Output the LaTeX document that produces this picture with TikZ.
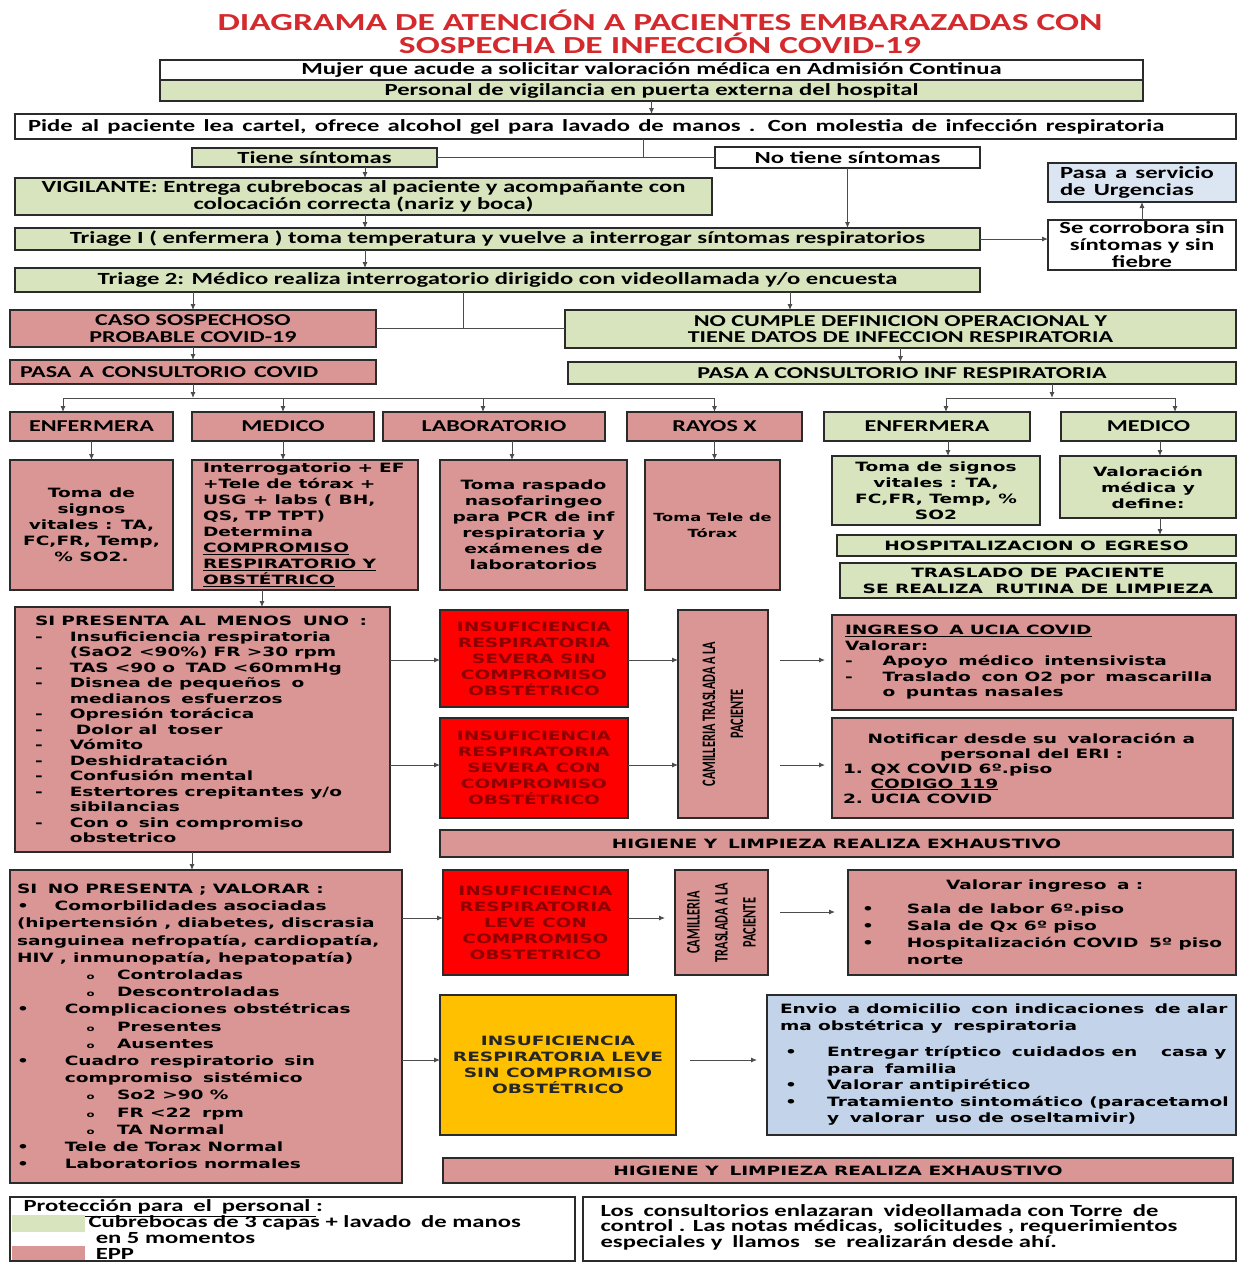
\documentclass[tikz,border=0pt]{standalone}
\usepackage{fontspec}
\setmainfont{Carlito}
\newfontfamily\verd{DejaVu Sans}
\usetikzlibrary{positioning}
\usetikzlibrary{arrows.meta}
\definecolor{vgreen}{HTML}{D7E4BD}
\definecolor{epink}{HTML}{D99694}
\definecolor{ired}{HTML}{FF0000}
\definecolor{itext}{HTML}{8E0000}
\definecolor{iyellow}{HTML}{FFC000}
\definecolor{sblue}{HTML}{C3D4EA}
\definecolor{ublue}{HTML}{DCE6F2}
\definecolor{ttlred}{HTML}{D42A2E}
\definecolor{edge}{HTML}{2B2B2B}
\tikzset{box/.style = {draw=edge, line width=1.6pt, inner sep=0pt, outer sep=0pt}}
\tikzset{gbox/.style = {box, fill=vgreen},
         pbox/.style = {box, fill=epink},
         wbox/.style = {box, fill=white},
         rbox/.style = {box, fill=ired, text=itext},
         ybox/.style = {box, fill=iyellow, text=black!85},
         bbox/.style = {box, fill=sblue},
         ubox/.style = {box, fill=ublue},
         swatch/.style = {inner sep=0pt, outer sep=0pt}}
\tikzset{cal/.style = {font=\bfseries\fontsize{17}{17}\selectfont},
         head/.style = {font=\bfseries\fontsize{16.6}{16.5}\selectfont},
         ver/.style = {font=\verd\bfseries\fontsize{12.8}{16}\selectfont},
         narrow/.style = {font=\bfseries\fontsize{13.1}{19.3}\selectfont}}
\tikzset{arr/.style = {draw=black!70, line width=0.9pt, -{Latex[length=6pt, width=5pt]}},
         ln/.style = {draw=black!70, line width=0.9pt}}
% text is wider than the font: stretch it
\newcommand\hstr{1.45}
\newcommand\cblock[1]{\scalebox{\hstr}[1]{\vbox{\let\\\cr\lineskiplimit=-40pt\halign{\hfil##\hfil\cr#1\crcr}}}}
\newcommand\lblock[1]{\scalebox{\hstr}[1]{\vbox{\let\\\cr\lineskiplimit=-40pt\halign{##\hfil\cr#1\crcr}}}}
\newcommand\vblock[2]{\rotatebox{90}{\scalebox{#1}[\hstr]{\vbox{\let\\\cr\lineskiplimit=-40pt\halign{\hfil##\hfil\cr#2\crcr}}}}}
\newcommand\bx[8][]{\node[#3, minimum width={#6-#4}, minimum height={#7-#5}, #1] (#2) at ({(#4+#6)/2}, {(#5+#7)/2}) {#8};}
\newcommand\bul[2][24]{\makebox[#1pt][l]{#2}}
\newcommand\subb{\hspace*{48pt}\bul[21]{{\fontsize{8}{8}\selectfont o}}}
\newcommand\gap[1]{\noalign{\vskip#1pt}}

\begin{document}
\begin{tikzpicture}[x=1pt, y=-1pt]
\useasboundingbox (0,0) rectangle (1237,1262);

% titulo
\node (title) at (660,32) {\color{ttlred}\bfseries\fontsize{24.5}{23.5}\selectfont\cblock{DIAGRAMA DE ATENCIÓN A PACIENTES EMBARAZADAS CON\\SOSPECHA DE INFECCIÓN COVID-19}};

% entrada
\bx{mujer}{wbox, cal}{160}{60}{1143}{80}{\cblock{Mujer que acude a solicitar valoración médica en Admisión Continua}}
\bx{personal}{gbox, cal}{160}{80}{1143}{101}{\cblock{Personal de vigilancia en puerta externa del hospital}}
\bx[text width=1195, align=left]{pide}{wbox, cal}{15}{114}{1236}{139}{\lblock{Pide al paciente lea cartel, ofrece alcohol gel  para  lavado  de manos .  Con molestia de infección  respiratoria}}
\bx{tiene}{gbox, cal}{192}{148}{437}{167}{\cblock{Tiene síntomas}}
\bx{notiene}{wbox, cal}{715}{147}{980}{168}{\cblock{No tiene síntomas}}
\bx{vigil}{gbox, cal}{15}{178}{712}{215}{\cblock{VIGILANTE: Entrega cubrebocas al paciente y  acompañante con\\colocación correcta  (nariz y boca)}}
\bx{triage1}{gbox, cal}{15}{228}{980}{250}{\cblock{Triage I  (  enfermera )  toma temperatura y vuelve a interrogar  síntomas respiratorios}}
\bx[text width=164, align=left]{urgencias}{ubox, cal}{1048}{163}{1236}{202}{\lblock{Pasa a servicio\\de Urgencias}}
\bx{corrobora}{wbox, cal}{1048}{220}{1236}{270}{\cblock{Se corrobora sin\\síntomas y sin\\fiebre}}
\bx{triage2}{gbox, cal}{15}{268}{980}{292}{\cblock{Triage 2: Médico  realiza  interrogatorio  dirigido  con videollamada y/o encuesta}}

% clasificacion
\bx{caso}{pbox, head}{10}{310}{376}{347}{\cblock{CASO SOSPECHOSO\\PROBABLE COVID-19}}
\bx{nocumple}{gbox, head}{565}{310}{1236}{348}{\cblock{NO  CUMPLE DEFINICION OPERACIONAL Y\\TIENE DATOS DE INFECCION  RESPIRATORIA}}
\bx[text width=346, align=left]{pasacovid}{pbox, head}{10}{360}{376}{384}{\lblock{PASA A CONSULTORIO COVID}}
\bx{pasainf}{gbox, head}{568}{362}{1236}{384}{\cblock{PASA A CONSULTORIO INF RESPIRATORIA}}

% areas
\bx{enf1}{pbox, head}{10}{412}{173}{441}{\cblock{ENFERMERA}}
\bx{med1}{pbox, head}{192}{412}{374}{441}{\cblock{MEDICO}}
\bx{lab}{pbox, head}{383}{412}{605}{441}{\cblock{LABORATORIO}}
\bx{rx}{pbox, head}{627}{412}{802}{441}{\cblock{RAYOS X}}
\bx{enf2}{gbox, head}{824}{412}{1030}{441}{\cblock{ENFERMERA}}
\bx{med2}{gbox, head}{1061}{412}{1236}{441}{\cblock{MEDICO}}

\bx{signos1}{pbox, ver}{10}{460}{173}{590}{\cblock{Toma de\\signos\\vitales : TA,\\FC,FR, Temp,\\\% SO2.}}
\bx[text width=204, align=left]{interr}{pbox, ver}{192}{460}{418}{590}{\lblock{Interrogatorio + EF\\+Tele de tórax +\\USG  + labs ( BH,\\QS, TP TPT)\\Determina\\\underline{COMPROMISO}\\\underline{RESPIRATORIO  Y}\\\underline{OBSTÉTRICO}}}
\bx{raspado}{pbox, ver}{440}{460}{627}{590}{\cblock{Toma raspado\\nasofaringeo\\para PCR de inf\\respiratoria y\\exámenes  de\\laboratorios}}
\bx[font=\verd\bfseries\fontsize{11.2}{16}\selectfont]{tele}{pbox}{645}{460}{780}{590}{\cblock{Toma Tele de\\Tórax}}
\bx{signos2}{gbox, ver}{832}{456}{1040}{525}{\cblock{Toma de signos\\vitales : TA,\\FC,FR, Temp, \%\\SO2}}
\bx{valor}{gbox, ver}{1060}{456}{1236}{518}{\cblock{Valoración\\médica y\\define:}}
\bx{hosp}{gbox, ver}{837}{535}{1236}{556}{\cblock{HOSPITALIZACION O\hspace{6pt}EGRESO}}
\bx{traslado}{gbox, ver}{840}{563}{1236}{598}{\cblock{TRASLADO DE PACIENTE\\SE REALIZA\hspace{4pt} RUTINA DE LIMPIEZA}}

% con datos de alarma
\bx[text width=335, align=left, font=\verd\bfseries\fontsize{12.8}{15.5}\selectfont]{sipres}{pbox}{15}{607}{390}{852}{\lblock{SI PRESENTA\hspace{3pt} AL\hspace{3pt} MENOS\hspace{3pt} UNO\hspace{3pt} :\\
\bul{-}Insuficiencia respiratoria\\
\hspace*{24pt}(SaO2 <90\%) FR >30 rpm\\
\bul{-}TAS <90 o\hspace{3pt} TAD <60mmHg\\
\bul{-}Disnea de pequeños\hspace{3pt} o\\
\hspace*{24pt}medianos\hspace{3pt} esfuerzos\\
\bul{-}Opresión torácica\\
\bul{-} Dolor al\hspace{3pt} toser\\
\bul{-}Vómito\\
\bul{-}Deshidratación\\
\bul{-}Confusión mental\\
\bul{-}Estertores crepitantes y/o\\
\hspace*{24pt}sibilancias\\
\bul{-}Con o\hspace{3pt} sin compromiso\\
\hspace*{24pt}obstetrico}}
\bx{red1}{rbox, ver}{440}{610}{628}{707}{\cblock{INSUFICIENCIA\\RESPIRATORIA\\SEVERA SIN\\COMPROMISO\\OBSTÉTRICO}}
\bx{red2}{rbox, ver}{440}{718}{628}{818}{\cblock{INSUFICIENCIA\\RESPIRATORIA\\SEVERA CON\\COMPROMISO\\OBSTÉTRICO}}
\bx{cam1}{pbox, narrow}{678}{610}{768}{818}{\vblock{0.94}{CAMILLERIA TRASLADA A LA\\PACIENTE}}
\bx[text width=378, align=left, font=\verd\bfseries\fontsize{12.8}{15.5}\selectfont]{ingreso}{pbox}{832}{615}{1236}{710}{\lblock{\underline{INGRESO\hspace{3pt} A UCIA COVID}\\
Valorar:\\
\bul[26]{-}Apoyo\hspace{3pt} médico\hspace{3pt} intensivista\\
\bul[26]{-}Traslado\hspace{3pt} con O2 por\hspace{3pt} mascarilla\\
\hspace*{26pt}o\hspace{3pt} puntas nasales}}
\bx[text width=379, align=left, font=\verd\bfseries\fontsize{12.8}{15}\selectfont]{notif}{pbox}{832}{718}{1233}{818}{\lblock{\hspace*{17pt}Notificar desde su\hspace{3pt} valoración a\\
\hspace*{67pt}personal del ERI :\\
\bul[19]{1.}QX COVID 6º.piso\\
\hspace*{19pt}\underline{CODIGO 119}\\
\bul[19]{2.}UCIA COVID}}
\bx{higiene1}{pbox, ver}{440}{830}{1233}{857}{\cblock{HIGIENE Y\hspace{3pt} LIMPIEZA REALIZA EXHAUSTIVO}}

% sin datos de alarma
\bx[text width=378, align=left, font=\verd\bfseries\fontsize{12.8}{17.2}\selectfont]{sino}{pbox}{10}{870}{402}{1183}{\lblock{SI\hspace{3pt} NO PRESENTA ; VALORAR :\\
\bul[26]{•}Comorbilidades asociadas\\
(hipertensión , diabetes, discrasia\\
sanguinea nefropatía, cardiopatía,\\
HIV , inmunopatía, hepatopatía)\\
\subb Controladas\\
\subb Descontroladas\\
\bul[33]{•}Complicaciones obstétricas\\
\subb Presentes\\
\subb Ausentes\\
\bul[33]{•}Cuadro\hspace{3pt} respiratorio\hspace{3pt} sin\\
\hspace*{33pt}compromiso\hspace{3pt} sistémico\\
\subb So2 >90 \%\\
\subb FR <22\hspace{3pt} rpm\\
\subb TA Normal\\
\bul[33]{•}Tele de Torax Normal\\
\bul[33]{•}Laboratorios normales}}
\bx{red3}{rbox, ver}{443}{870}{628}{975}{\cblock{INSUFICIENCIA\\RESPIRATORIA\\LEVE CON\\COMPROMISO\\OBSTETRICO}}
\bx{cam2}{pbox, narrow}{675}{870}{768}{975}{\vblock{0.94}{CAMILLERIA\\TRASLADA A LA\\PACIENTE}}
\bx[text width=360, align=left, font=\verd\bfseries\fontsize{12.8}{17}\selectfont]{valing}{pbox}{848}{870}{1236}{975}{\lblock{\hspace*{58pt}Valorar ingreso\hspace{3pt} a :\\\gap{7}
\bul[31]{•}Sala de labor 6º.piso\\
\bul[31]{•}Sala de Qx 6º piso\\
\bul[31]{•}Hospitalización COVID\hspace{3pt} 5º piso\\
\hspace*{31pt}norte}}
\bx{yellow}{ybox, ver}{440}{995}{676}{1135}{\cblock{INSUFICIENCIA\\RESPIRATORIA LEVE\\SIN COMPROMISO\\OBSTÉTRICO}}
\bx[text width=443, align=left, font=\verd\bfseries\fontsize{12.8}{16.5}\selectfont]{blue}{bbox}{767}{995}{1236}{1135}{\lblock{Envio\hspace{3pt} a domicilio\hspace{3pt} con indicaciones\hspace{3pt} de alar\\
ma obstétrica y\hspace{3pt} respiratoria\\\gap{10}
\hspace*{3.5pt}\bul[29]{•}Entregar tríptico\hspace{3pt} cuidados en\hspace{12pt} casa y\\
\hspace*{32.5pt}para\hspace{3pt} familia\\
\hspace*{3.5pt}\bul[29]{•}Valorar antipirético\\
\hspace*{3.5pt}\bul[29]{•}Tratamiento sintomático (paracetamol\\
\hspace*{32.5pt}y\hspace{3pt} valorar\hspace{3pt} uso de oseltamivir)}}
\bx{higiene2}{pbox, ver}{443}{1158}{1233}{1183}{\cblock{HIGIENE Y\hspace{3pt} LIMPIEZA REALIZA EXHAUSTIVO}}

% leyenda
\bx{leg}{wbox}{10}{1197}{575}{1261}{}
\node [anchor=west, font=\bfseries\fontsize{17}{16}\selectfont] (legtit) at (20,1208) {\lblock{\underline{Protección para\hspace{3pt} el\hspace{3pt} personal }:}};
\bx{swg}{swatch, fill=vgreen}{12}{1215}{85}{1232}{}
\bx{swp}{swatch, fill=epink}{12}{1246}{85}{1260}{}
\node [anchor=west, font=\bfseries\fontsize{17}{16}\selectfont] (legtxt) at (85,1238) {\lblock{Cubrebocas de 3 capas + lavado\hspace{3pt} de manos\\\hspace*{5pt}en 5 momentos\\\hspace*{5pt}EPP}};
\bx{torre}{wbox}{583}{1197}{1236}{1261}{}
\node [anchor=north west, font=\bfseries\fontsize{17}{15.5}\selectfont] (torretxt) at (597,1201) {\lblock{Los\hspace{3pt} consultorios enlazaran\hspace{3pt} videollamada con Torre\hspace{3pt} de\\control . Las notas médicas,\hspace{3pt} solicitudes , requerimientos\\especiales y\hspace{3pt} llamos\hspace{6pt} se\hspace{3pt} realizarán desde ahí.}};

% conectores
\coordinate (c643) at (643,157);
\coordinate (c365) at (365,0);
\coordinate (c463) at (463,0);
\coordinate (c790) at (790,0);
\draw [arr] (personal.south) -- (pide.north -| personal.south);
\draw [ln] (tiene.east) -- (notiene.west);
\draw [ln] (pide.south -| c643) -- (c643);
\draw [arr] (tiene.south -| c365) -- (vigil.north -| c365);
\draw [arr] (vigil.south -| c365) -- (triage1.north -| c365);
\draw [arr] (notiene.south) -- (triage1.north -| notiene.south);
\draw [arr] (triage1.east) -- (triage1.east -| corrobora.west);
\draw [arr] (corrobora.north) -- (urgencias.south);
\draw [arr] (triage1.south -| c365) -- (triage2.north -| c365);
\draw [arr] (triage2.south -| caso.north) -- (caso.north);
\draw [arr] (triage2.south -| c790) -- (nocumple.north -| c790);
\draw [ln] (caso.east) -- (caso.east -| nocumple.west);
\draw [ln] (triage2.south -| c463) -- (caso.east -| c463);
\draw [arr] (caso.south) -- (pasacovid.north);
\draw [arr] (nocumple.south) -- (pasainf.north -| nocumple.south);

\coordinate (b1l) at (63,398);
\coordinate (c483) at (483,0);
\draw [arr] (pasacovid.south) -- (pasacovid.south |- b1l);
\draw [ln] (b1l) -- (rx.north |- b1l);
\draw [arr] (b1l) -- (b1l |- enf1.north);
\draw [arr] (med1.north |- b1l) -- (med1.north);
\draw [arr] (c483 |- b1l) -- (c483 |- lab.north);
\draw [arr] (rx.north |- b1l) -- (rx.north);
\coordinate (b2l) at (946,398);
\coordinate (c1052) at (1052,0);
\coordinate (c1175) at (1175,0);
\draw [arr] (pasainf.south -| c1052) -- (c1052 |- b2l);
\draw [ln] (b2l) -- (c1175 |- b2l);
\draw [arr] (b2l) -- (b2l |- enf2.north);
\draw [arr] (c1175 |- b2l) -- (c1175 |- med2.north);

\coordinate (c512) at (512,0);
\coordinate (c948) at (948,0);
\coordinate (c1160) at (1160,0);
\coordinate (c262) at (262,0);
\draw [arr] (enf1.south) -- (signos1.north);
\draw [arr] (med1.south) -- (med1.south |- interr.north);
\draw [arr] (lab.south -| c512) -- (raspado.north -| c512);
\draw [arr] (rx.south) -- (rx.south |- tele.north);
\draw [arr] (enf2.south -| c948) -- (signos2.north -| c948);
\draw [arr] (med2.south -| c1160) -- (valor.north -| c1160);
\draw [arr] (valor.south -| c1160) -- (hosp.north -| c1160);
\draw [arr] (interr.south -| c262) -- (sipres.north -| c262);

\coordinate (r660) at (0,660);
\coordinate (r765) at (0,765);
\draw [arr] (sipres.east |- r660) -- (red1.west |- r660);
\draw [arr] (sipres.east |- r765) -- (red2.west |- r765);
\draw [arr] (red1.east |- r660) -- (cam1.west |- r660);
\draw [arr] (red2.east |- r765) -- (cam1.west |- r765);
\draw [arr, shorten <=12pt, shorten >=7pt] (cam1.east |- r660) -- (ingreso.west |- r660);
\draw [arr, shorten <=12pt, shorten >=7pt] (cam1.east |- r765) -- (notif.west |- r765);

\coordinate (c192) at (192,0);
\coordinate (r918) at (0,918);
\coordinate (r912) at (0,912);
\coordinate (r1060) at (0,1060);
\draw [arr] (sipres.south -| c192) -- (sino.north -| c192);
\draw [arr] (sino.east |- r918) -- (red3.west |- r918);
\draw [arr] (sino.east |- r1060) -- (yellow.west |- r1060);
\draw [arr, shorten >=10pt] (red3.east |- r918) -- (cam2.west |- r918);
\draw [arr, shorten <=12pt, shorten >=13pt] (cam2.east |- r912) -- (valing.west |- r912);
\draw [arr, shorten <=14pt, shorten >=10pt] (yellow.east |- r1060) -- (blue.west |- r1060);
\end{tikzpicture}
\end{document}
